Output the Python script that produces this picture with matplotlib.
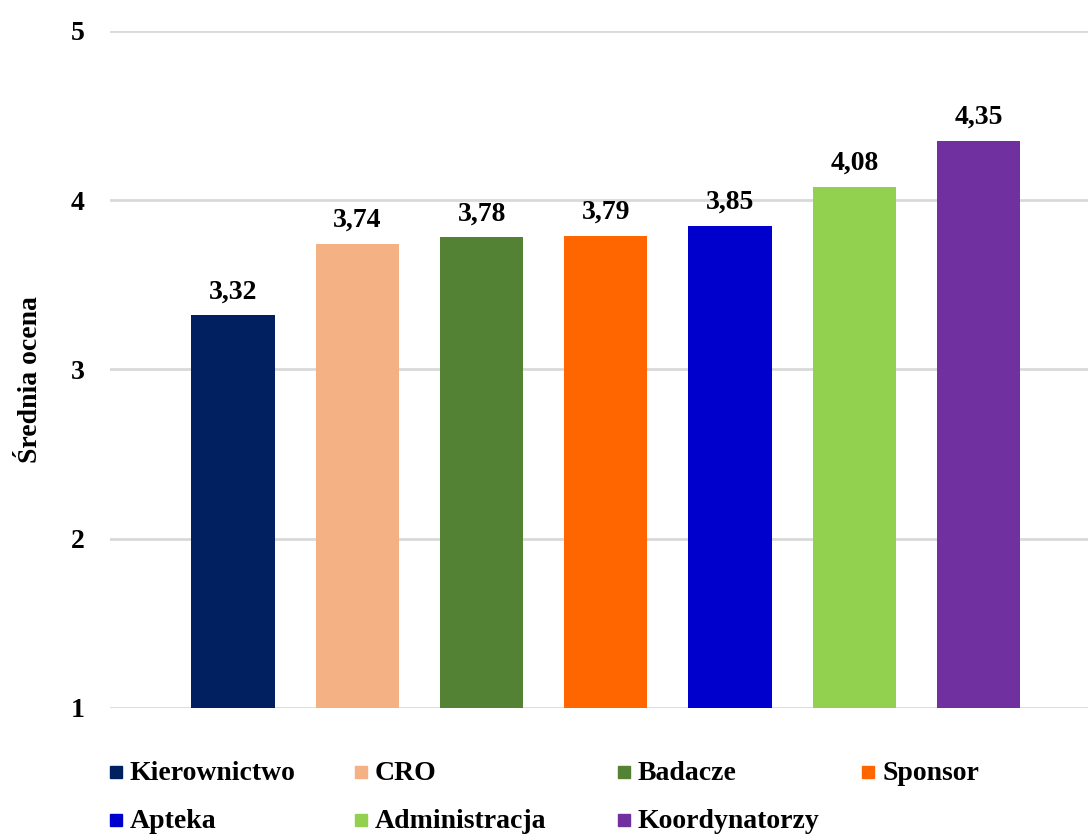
import matplotlib
matplotlib.use('Agg')
import matplotlib.pyplot as plt
from matplotlib.patches import Rectangle

# average scores per group
groups = ['Kierownictwo', 'CRO', 'Badacze', 'Sponsor', 'Apteka', 'Administracja', 'Koordynatorzy']
scores = [3.32, 3.74, 3.78, 3.79, 3.85, 4.08, 4.35]
colors = ['#002060', '#F4B183', '#548235', '#FF6600', '#0000CC', '#92D050', '#7030A0']
yticks = [1, 2, 3, 4, 5]

plt.rcParams['font.family'] = ['Liberation Serif', 'DejaVu Serif']
plt.rcParams['font.weight'] = 'bold'

fig = plt.figure(figsize=(10.88, 8.35), dpi=100)
ax = fig.add_axes([0.1011, 0.1521, 0.8989, 0.8108])

x = list(range(len(groups)))
bars = ax.bar(x, scores, width=0.67, color=colors, zorder=3)

for xi, v in zip(x, scores):
    ax.annotate(f'{v:.2f}'.replace('.', ','), (xi, v), xytext=(0, 8),
                textcoords='offset points', ha='center', va='bottom',
                fontsize=20, fontweight='bold')

ax.set_ylim(1, 5)
ax.set_xlim(-0.99, 6.88)
ax.set_yticks(yticks)
ax.set_yticklabels([str(t) for t in yticks], fontsize=20, fontweight='bold')
ax.set_xticks([])
ax.tick_params(axis='y', length=0, pad=18)
ax.grid(axis='y', color='#d9d9d9', linewidth=2, zorder=0)
for s in ax.spines.values():
    s.set_visible(False)

fig.text(0.028, 0.545, 'Średnia ocena', rotation=90, ha='center', va='center',
         fontsize=20, fontweight='bold')

# legend laid out in a 4-column grid under the plot
col_x = [110, 355, 618, 862]
row_y = [772, 820]
W, H = 1088, 835
for i, (name, c) in enumerate(zip(groups, colors)):
    px = col_x[i % 4]
    py = row_y[i // 4]
    fig.patches.append(Rectangle((px / W, (H - py - 6) / H), 12 / W, 12 / H,
                                 transform=fig.transFigure, color=c, figure=fig))
    fig.text((px + 20) / W, (H - py - 1) / H, name, ha='left', va='center',
             fontsize=20, fontweight='bold')

fig.savefig('out.png', dpi=100)
